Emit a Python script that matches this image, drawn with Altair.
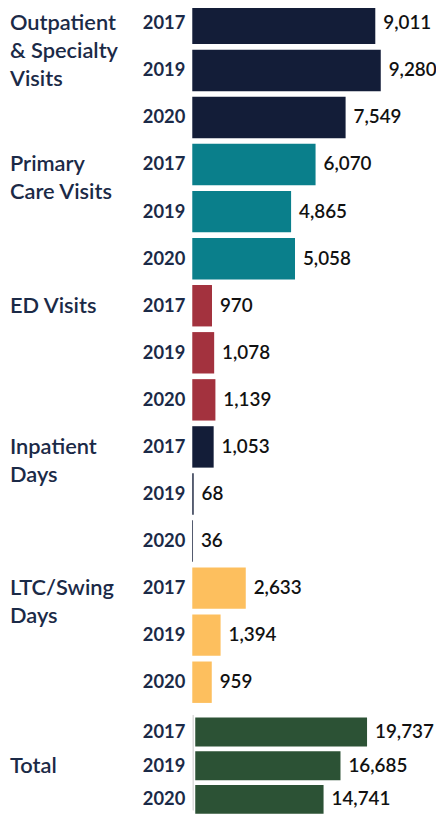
import altair as alt
import pandas as pd

# ---- data ----
category_labels = ["Outpatient\n& Specialty\nVisits", "Primary\nCare Visits", "ED Visits",
                   "Inpatient\nDays", "LTC/Swing\nDays"]
years = ["2017", "2019", "2020"]
outpatient = [9011, 9280, 7549]
primary_care = [6070, 4865, 5058]
ed_visits = [970, 1078, 1139]
inpatient = [1053, 68, 36]
ltc_swing = [2633, 1394, 959]
total = [19737, 16685, 14741]
category_colors = ["#131d38", "#0a7f8b", "#a3323e", "#131d38", "#fdbf5e"]
total_color = "#2c5235"

FONT = "Lato"
LABEL_COLOR = "#1b2a47"

series = [outpatient, primary_care, ed_visits, inpatient, ltc_swing]
rows = []
for i, (lab, vals, col) in enumerate(zip(category_labels, series, category_colors)):
    for j, (yr, v) in enumerate(zip(years, vals)):
        rows.append({"key": f"{i}-{yr}", "cat": lab, "year": yr, "value": v,
                     "color": col, "first": j == 0})
df = pd.DataFrame(rows)
keys = list(df["key"])

tdf = pd.DataFrame({"key": [f"T-{y}" for y in years], "cat": "Total", "year": years,
                    "value": total, "color": total_color,
                    "mid": [False, True, False]})
tkeys = list(tdf["key"])


def section(data, order, xscale, yscale, label_filter, extra=None):
    base = alt.Chart(data).encode(
        y=alt.Y("key:N", sort=order, axis=None, scale=yscale)
    )
    bars = base.mark_bar().encode(
        x=alt.X("value:Q", scale=xscale, axis=None),
        color=alt.Color("color:N", scale=None),
    )
    values = base.mark_text(align="left", baseline="middle", dx=8, font=FONT,
                            fontSize=19, fontWeight=600, color="#111111").encode(
        x="value:Q", text=alt.Text("value:Q", format=",")
    )
    yrs = base.mark_text(align="right", baseline="middle", font=FONT, fontSize=18.5,
                         fontWeight="bold", color=LABEL_COLOR).encode(
        x=alt.value(-7), text="year:N"
    )
    cats = base.transform_filter(label_filter).mark_text(
        align="left", baseline="alphabetic", dy=7, lineBreak="\n", lineHeight=28,
        font=FONT, fontSize=22, fontWeight=600, color=LABEL_COLOR
    ).encode(x=alt.value(-184), text="cat:N")
    layers = [bars, values, yrs, cats]
    if extra is not None:
        layers.insert(0, extra)
    return alt.layer(*layers)


top = section(df, keys, alt.Scale(domain=[0, 12000], range=[0, 246]),
              alt.Scale(range=[-12, 700.5], paddingInner=0.12, paddingOuter=0.06),
              "datum.first")

axis_line = alt.Chart(tdf).mark_rule(color="#dddddd", strokeWidth=1).encode(
    x=alt.value(1), y=alt.value(710), y2=alt.value(806)
)
bottom = section(tdf, tkeys, alt.Scale(domain=[0, 28000], range=[3, 249]),
                 alt.Scale(range=[710, 812], paddingInner=0.14, paddingOuter=0.07),
                 "datum.mid", extra=axis_line)

chart = alt.layer(top, bottom).resolve_scale(
    x="independent", y="independent"
).properties(
    width=246, height=806,
    autosize=alt.AutoSizeParams(type="none"),
    padding={"top": 0, "left": 186, "right": 0, "bottom": 0},
).configure_view(stroke=None)

chart.save("out.html", embed_options={"renderer": "svg", "actions": False})
